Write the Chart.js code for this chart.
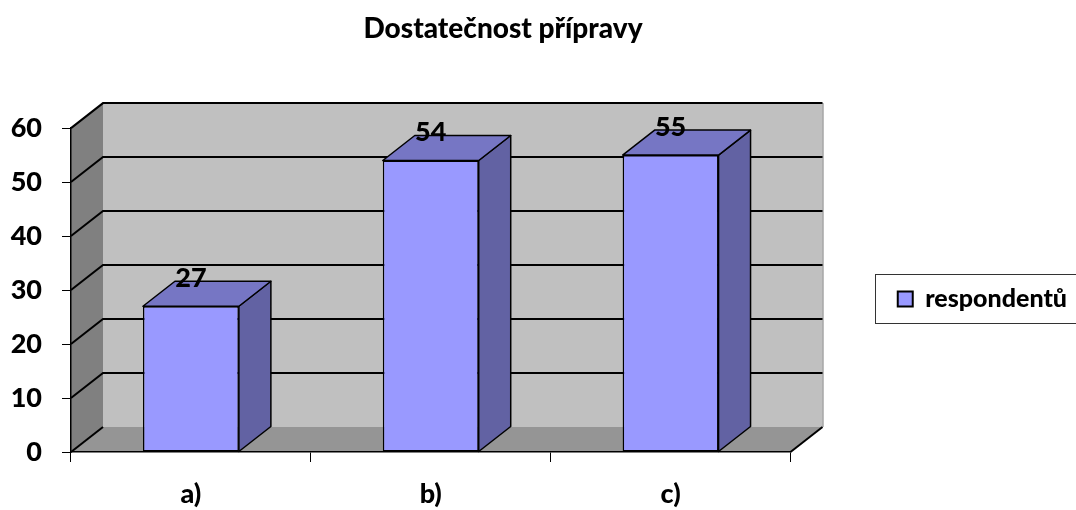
<!DOCTYPE html>
<html><head><meta charset="utf-8">
<script src="https://cdn.jsdelivr.net/npm/chart.js@4.4.1/dist/chart.umd.min.js"></script>
<style>html,body{margin:0;padding:0;background:#fff;}canvas{display:block;}</style>
</head><body>
<canvas id="c" width="1076" height="510"></canvas>
<script>
// ---- data ----
const categories = ['a)', 'b)', 'c)'];
const respondentValues = [27, 54, 55];
const seriesName = 'respondentů';
const chartTitle = 'Dostatečnost přípravy';
const yTickValues = [0, 10, 20, 30, 40, 50, 60];

// ---- style ----
const FONT = "Lato, 'Liberation Sans', sans-serif";
const WEIGHT = '900';
const DX = 32, DY = -25;
const BAR_FRONT = '#9999FF', BAR_TOP = '#7676C4', BAR_SIDE = '#6262A3';
const WALL = '#C0C0C0', LEFT_WALL = '#808080', FLOOR = '#959595';

// layout targets
const PAD_LEFT = -71, PAD_RIGHT = -1;   // centres the title like the original
const PLOT_LEFT = 71, PLOT_RIGHT = 790.5;
const LEGEND_FONT = 25, LEGEND_BOX = 15;
const mctx = document.createElement('canvas').getContext('2d');
mctx.font = WEIGHT + ' ' + LEGEND_FONT + 'px ' + FONT;
const legendItemW = LEGEND_BOX + LEGEND_FONT / 2 + mctx.measureText(seriesName).width;
const legendPad = Math.max(0, (1076 - PAD_RIGHT) - PLOT_RIGHT - 10 - legendItemW);

function poly(ctx, pts, fill, stroke, lw) {
  ctx.beginPath();
  ctx.moveTo(pts[0][0], pts[0][1]);
  for (let i = 1; i < pts.length; i++) ctx.lineTo(pts[i][0], pts[i][1]);
  ctx.closePath();
  if (fill) { ctx.fillStyle = fill; ctx.fill(); }
  if (stroke) { ctx.strokeStyle = stroke; ctx.lineWidth = lw || 1; ctx.stroke(); }
}

const threeD = {
  id: 'threeD',
  beforeDraw(chart) {
    const {ctx, chartArea: a, scales: {y: ys}} = chart;
    const L = a.left, R = a.right;
    const yb = ys.getPixelForValue(ys.min), yt = ys.getPixelForValue(ys.max);
    ctx.save();
    ctx.fillStyle = WALL;
    ctx.fillRect(L + DX, yt + DY, R - L, yb - yt);
    poly(ctx, [[L, yt], [L + DX, yt + DY], [L + DX, yb + DY], [L, yb]], LEFT_WALL);
    poly(ctx, [[L, yb], [R, yb], [R + DX, yb + DY], [L + DX, yb + DY]], FLOOR);
    ctx.strokeStyle = '#7a7a7a'; ctx.lineWidth = 1;
    ctx.beginPath(); ctx.moveTo(R + DX + 0.5, yt + DY); ctx.lineTo(R + DX + 0.5, yb + DY); ctx.stroke();
    ctx.strokeStyle = '#000'; ctx.lineWidth = 2;
    ys.ticks.forEach(t => {
      const py = ys.getPixelForValue(t.value);
      ctx.beginPath();
      ctx.moveTo(L, py); ctx.lineTo(L + DX, py + DY);
      if (t.value !== ys.min) ctx.lineTo(R + DX, py + DY);
      ctx.stroke();
    });
    ctx.beginPath(); ctx.moveTo(R, yb); ctx.lineTo(R + DX, yb + DY); ctx.stroke();
    ctx.restore();
  },
  afterDatasetsDraw(chart) {
    const {ctx} = chart;
    const meta = chart.getDatasetMeta(0);
    const values = chart.data.datasets[0].data;
    ctx.save();
    ctx.lineJoin = 'round';
    meta.data.forEach((bar, i) => {
      const p = bar.getProps(['x', 'y', 'base', 'width'], true);
      const l = p.x - p.width / 2, r = p.x + p.width / 2, top = p.y, bot = p.base;
      poly(ctx, [[r, top], [r + DX, top + DY], [r + DX, bot + DY], [r, bot]], BAR_SIDE, '#000', 1.5);
      poly(ctx, [[l, top], [r, top], [r + DX, top + DY], [l + DX, top + DY]], BAR_TOP, '#000', 1.5);
      ctx.fillStyle = '#000';
      ctx.font = WEIGHT + ' 27px ' + FONT;
      ctx.textAlign = 'center';
      ctx.textBaseline = 'alphabetic';
      ctx.fillText(String(values[i]), p.x, top + DY + 5.5);
    });
    ctx.restore();
  },
  afterDraw(chart) {
    const lg = chart.legend;
    if (!lg || !lg.legendHitBoxes || !lg.legendHitBoxes.length) return;
    const hb = lg.legendHitBoxes[0];
    const cy = hb.top + hb.height / 2;
    const {ctx} = chart;
    ctx.save();
    ctx.strokeStyle = '#333'; ctx.lineWidth = 1;
    ctx.strokeRect(Math.round(hb.left) - 22.5, Math.round(cy) - 24.5, 300, 49);
    ctx.restore();
  }
};

new Chart(document.getElementById('c'), {
  type: 'bar',
  data: {
    labels: categories,
    datasets: [{
      label: seriesName,
      data: respondentValues,
      backgroundColor: BAR_FRONT,
      borderColor: '#000',
      borderWidth: 1.5,
      borderSkipped: false,
      barPercentage: 0.4,
      categoryPercentage: 1
    }]
  },
  options: {
    responsive: false,
    animation: false,
    devicePixelRatio: 1,
    layout: { padding: { left: PAD_LEFT, right: PAD_RIGHT, top: 0, bottom: 0 } },
    plugins: {
      title: {
        display: true, text: chartTitle, color: '#000',
        font: { family: FONT, size: 28, weight: WEIGHT },
        padding: { top: 12, bottom: 82.5 }
      },
      legend: {
        position: 'right', fullSize: false,
        title: { display: true, text: '', padding: 0, font: { size: 15 } },
        labels: {
          boxWidth: LEGEND_BOX, boxHeight: LEGEND_BOX, padding: legendPad, color: '#000',
          font: { family: FONT, size: LEGEND_FONT, weight: WEIGHT },
          generateLabels(chart) {
            return Chart.defaults.plugins.legend.labels.generateLabels(chart)
              .map(it => Object.assign(it, { lineWidth: 2 }));
          }
        }
      },
      tooltip: { enabled: false }
    },
    scales: {
      x: {
        ticks: { color: '#000', font: { family: FONT, size: 27, weight: WEIGHT }, padding: 16 },
        grid: { drawOnChartArea: false, offset: true, tickLength: 10, color: '#000' },
        border: { display: true, color: '#000', width: 1.5 },
        afterFit(s) { s.height = 58; }
      },
      y: {
        min: 0, max: 60,
        afterBuildTicks(s) { s.ticks = yTickValues.map(v => ({ value: v })); },
        ticks: { color: '#000', font: { family: FONT, size: 27, weight: WEIGHT }, padding: 20 },
        grid: { drawOnChartArea: false, tickLength: 9, color: '#000' },
        border: { display: true, color: '#000', width: 1.5 },
        afterFit(s) { s.width = PLOT_LEFT - PAD_LEFT; }
      }
    }
  },
  plugins: [threeD]
});
</script>
</body></html>
